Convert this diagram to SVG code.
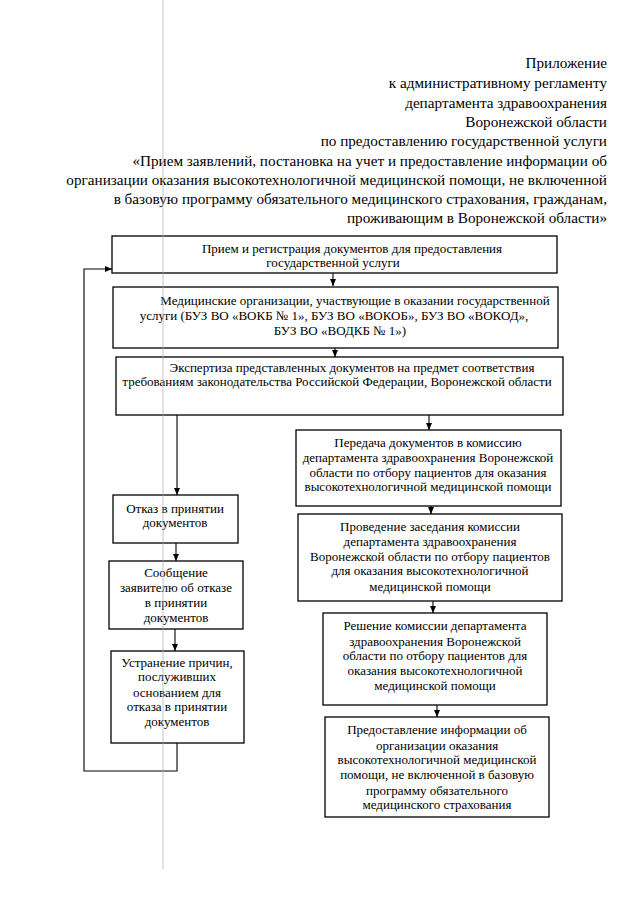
<svg xmlns="http://www.w3.org/2000/svg" width="640" height="905" viewBox="0 0 640 905">
<defs>
<style>
.h{font-family:"Liberation Serif","Times New Roman",serif;font-size:15.2px;fill:#000;text-anchor:end}
.t{font-family:"Liberation Serif","Times New Roman",serif;font-size:13px;fill:#000;text-anchor:middle}
.b{fill:#fff;stroke:#000;stroke-width:1.3}
.c{fill:none;stroke:#000;stroke-width:1.1}
</style>
<marker id="a" markerWidth="8" markerHeight="8" refX="7" refY="4" orient="auto" markerUnits="userSpaceOnUse">
<path d="M0,1 L7,4 L0,7 Z" fill="#000"/>
</marker>
</defs>
<rect width="640" height="905" fill="#fff"/>
<g id="header">
<text class="h" x="607" y="68">Приложение</text>
<text class="h" x="607" y="88">к административному регламенту</text>
<text class="h" x="607" y="108">департамента здравоохранения</text>
<text class="h" x="607" y="127">Воронежской области</text>
<text class="h" x="607" y="146">по предоставлению государственной услуги</text>
<text class="h" x="607" y="166">«Прием заявлений, постановка на учет и предоставление информации об</text>
<text class="h" x="607" y="185">организации оказания высокотехнологичной медицинской помощи, не включенной</text>
<text class="h" x="607" y="204">в базовую программу обязательного медицинского страхования, гражданам,</text>
<text class="h" x="607" y="223">проживающим в Воронежской области»</text>
</g>
<g id="connectors">
<line class="c" x1="333" y1="273" x2="333" y2="286" marker-end="url(#a)"/>
<line class="c" x1="335" y1="348" x2="335" y2="357" marker-end="url(#a)"/>
<line class="c" x1="177" y1="415" x2="177" y2="495" marker-end="url(#a)"/>
<line class="c" x1="429" y1="415" x2="429" y2="430" marker-end="url(#a)"/>
<line class="c" x1="176" y1="543" x2="176" y2="561" marker-end="url(#a)"/>
<line class="c" x1="175" y1="629" x2="175" y2="651" marker-end="url(#a)"/>
<line class="c" x1="431" y1="506" x2="431" y2="514" marker-end="url(#a)"/>
<line class="c" x1="433" y1="601" x2="433" y2="613" marker-end="url(#a)"/>
<line class="c" x1="437" y1="705" x2="437" y2="717" marker-end="url(#a)"/>
<polyline class="c" points="177,743 177,771 84,771 84,269 112,269" marker-end="url(#a)"/>
</g>
<g id="n1">
<rect class="b" x="112" y="236" width="445" height="37"/>
<text class="t" x="352" y="253">Прием и регистрация документов для предоставления</text>
<text class="t" x="333" y="267">государственной услуги</text>
</g>
<g id="n2">
<rect class="b" x="113" y="287" width="445" height="61"/>
<text class="t" x="355" y="305">Медицинские организации, участвующие в оказании государственной</text>
<text class="t" x="334" y="320">услуги (БУЗ ВО «ВОКБ № 1», БУЗ ВО «ВОКОБ», БУЗ ВО «ВОКОД»,</text>
<text class="t" x="340" y="335">БУЗ ВО «ВОДКБ № 1»)</text>
</g>
<g id="n3">
<rect class="b" x="116" y="357" width="447" height="58"/>
<text class="t" x="352" y="372">Экспертиза представленных документов на предмет соответствия</text>
<text class="t" x="337" y="386">требованиям законодательства Российской Федерации, Воронежской области</text>
</g>
<g id="n4">
<rect class="b" x="296" y="430" width="265" height="76"/>
<text class="t" x="428" y="447">Передача документов в комиссию</text>
<text class="t" x="428" y="462">департамента здравоохранения Воронежской</text>
<text class="t" x="428" y="477">области по отбору пациентов для оказания</text>
<text class="t" x="428" y="491">высокотехнологичной медицинской помощи</text>
</g>
<g id="n5">
<rect class="b" x="113" y="495" width="125" height="48"/>
<text class="t" x="175" y="513">Отказ в принятии</text>
<text class="t" x="175" y="527">документов</text>
</g>
<g id="n6">
<rect class="b" x="298" y="514" width="264" height="87"/>
<text class="t" x="430" y="531">Проведение заседания комиссии</text>
<text class="t" x="430" y="546">департамента здравоохранения</text>
<text class="t" x="430" y="561">Воронежской области по отбору пациентов</text>
<text class="t" x="430" y="575">для оказания высокотехнологичной</text>
<text class="t" x="430" y="591">медицинской помощи</text>
</g>
<g id="n7">
<rect class="b" x="109" y="561" width="134" height="68"/>
<text class="t" x="176" y="577">Сообщение</text>
<text class="t" x="176" y="592">заявителю об отказе</text>
<text class="t" x="176" y="607">в принятии</text>
<text class="t" x="176" y="622">документов</text>
</g>
<g id="n8">
<rect class="b" x="323" y="613" width="224" height="92"/>
<text class="t" x="435" y="630">Решение комиссии департамента</text>
<text class="t" x="435" y="646">здравоохранения Воронежской</text>
<text class="t" x="435" y="660">области по отбору пациентов для</text>
<text class="t" x="435" y="675">оказания высокотехнологичной</text>
<text class="t" x="435" y="690">медицинской помощи</text>
</g>
<g id="n9">
<rect class="b" x="111" y="651" width="133" height="92"/>
<text class="t" x="177" y="667">Устранение причин,</text>
<text class="t" x="177" y="681">послуживших</text>
<text class="t" x="177" y="697">основанием для</text>
<text class="t" x="177" y="711">отказа в принятии</text>
<text class="t" x="177" y="726">документов</text>
</g>
<g id="n10">
<rect class="b" x="325" y="717" width="224" height="100"/>
<text class="t" x="437" y="734">Предоставление информации об</text>
<text class="t" x="437" y="750">организации оказания</text>
<text class="t" x="437" y="764">высокотехнологичной медицинской</text>
<text class="t" x="437" y="779">помощи, не включенной в базовую</text>
<text class="t" x="437" y="795">программу обязательного</text>
<text class="t" x="437" y="809">медицинского страхования</text>
</g>
<line x1="163" y1="0" x2="163" y2="869" stroke="#aaa" stroke-width="0.7"/>
</svg>
